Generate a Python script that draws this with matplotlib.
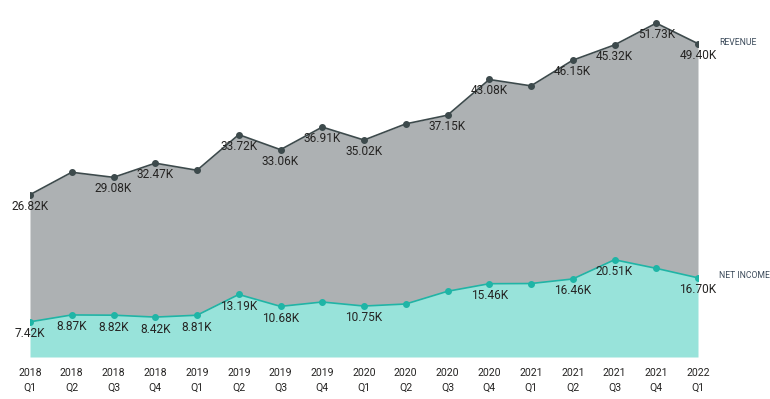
import matplotlib
matplotlib.use("Agg")
import matplotlib.pyplot as plt

plt.rcParams['font.family'] = ['Roboto', 'DejaVu Sans']

quarters = ["2018\nQ1", "2018\nQ2", "2018\nQ3", "2018\nQ4",
            "2019\nQ1", "2019\nQ2", "2019\nQ3", "2019\nQ4",
            "2020\nQ1", "2020\nQ2", "2020\nQ3", "2020\nQ4",
            "2021\nQ1", "2021\nQ2", "2021\nQ3", "2021\nQ4",
            "2022\nQ1"]
net_income = [7.42, 8.87, 8.82, 8.42, 8.81, 13.19, 10.68, 11.6, 10.75, 11.18,
              13.86, 15.46, 15.5, 16.46, 20.51, 18.7, 16.70]
revenue = [26.82, 30.1, 29.08, 32.47, 30.58, 33.72, 33.06, 36.91, 35.02, 38.0,
           37.15, 43.08, 41.7, 46.15, 45.32, 51.73, 49.40]
revenue_labelled = [0, 2, 3, 5, 6, 7, 8, 10, 11, 13, 14, 15, 16]
net_income_labelled = [0, 1, 2, 3, 4, 5, 6, 8, 11, 13, 14, 16]
series_names = ["REVENUE", "NET INCOME"]

x = list(range(len(quarters)))
total = [n + r for n, r in zip(net_income, revenue)]

fig = plt.figure(figsize=(7.7, 3.99), dpi=100)
ax = fig.add_axes([30/770, 42/399, 668/770, 347/399])

teal_fill = "#98E3DA"
teal_line = "#1FB5A6"
gray_fill = "#ADB1B3"
gray_line = "#3D4A4C"

ax.fill_between(x, 0, net_income, color=teal_fill, lw=0)
ax.fill_between(x, net_income, total, color=gray_fill, lw=0)
ax.plot(x, total, color=gray_line, lw=1.2, marker='o', ms=4, zorder=3)
ax.plot(x, net_income, color=teal_line, lw=1.2, marker='o', ms=4, zorder=3)

lab_color = "#252423"
for i in revenue_labelled:
    ax.annotate(f"{revenue[i]:.2f}K", (x[i], total[i]), xytext=(0, -8.2),
                textcoords='offset points', ha='center', va='center',
                fontsize=8.6, color=lab_color, zorder=4)
for i in net_income_labelled:
    ax.annotate(f"{net_income[i]:.2f}K", (x[i], net_income[i]), xytext=(0, -8.6),
                textcoords='offset points', ha='center', va='center',
                fontsize=8.6, color=lab_color, zorder=4)

ax.annotate(series_names[0], (x[-1], total[-1]), xytext=(15, 0.5),
            textcoords='offset points', ha='left', va='center',
            fontsize=6.2, color="#3B4A5A", annotation_clip=False)
ax.annotate(series_names[1], (x[-1], net_income[-1]), xytext=(15, 1.5),
            textcoords='offset points', ha='left', va='center',
            fontsize=6.2, color="#3B4A5A", annotation_clip=False)

ax.set_xlim(0, len(quarters) - 1)
ax.set_ylim(0, 73.2)
ax.set_xticks(x)
ax.set_xticklabels(quarters, fontsize=7.6, color=lab_color, linespacing=1.6)
ax.tick_params(axis='x', length=0, pad=8)
ax.set_yticks([])
for s in ax.spines.values():
    s.set_visible(False)

fig.savefig("out.png", dpi=100)
